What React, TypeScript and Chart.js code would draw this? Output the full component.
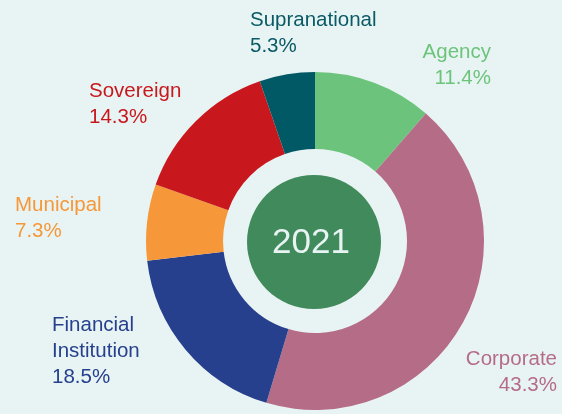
import React, { useEffect, useRef } from "react";
import { Chart, registerables } from "chart.js";

Chart.register(...registerables);

const categories = ["Agency", "Corporate", "Financial Institution", "Municipal", "Sovereign", "Supranational"];
const labelLines = [["Agency"], ["Corporate"], ["Financial", "Institution"], ["Municipal"], ["Sovereign"], ["Supranational"]];
const shares = [11.4, 43.3, 18.5, 7.3, 14.3, 5.3];
const centerLabel = "2021";

const sliceColors = ["#6cc47c", "#b56c87", "#26408e", "#f6983a", "#c8181e", "#025966"];
const textColors = ["#6cc47c", "#b56c87", "#26408e", "#f6983a", "#c8181e", "#0a5a66"];
// label anchor: x, first baseline y, alignment
const labelPos: [number, number, CanvasTextAlign][] = [
  [491, 58, "right"],
  [557, 365, "right"],
  [52, 331, "left"],
  [15, 211, "left"],
  [89, 97, "left"],
  [250, 26, "left"],
];

const BG = "#e8f4f3";
const FONT = "'Liberation Sans', Arial, Helvetica, sans-serif";

export default function App() {
  const ref = useRef<HTMLCanvasElement | null>(null);
  useEffect(() => {
    document.body.style.margin = "0";
    const canvas = ref.current!;
    const labelPlugin = {
      id: "labels",
      afterDraw(chart: any) {
        const ctx = chart.ctx as CanvasRenderingContext2D;
        const arc = chart.getDatasetMeta(0).data[0] as any;
        const cx = arc.x, cy = arc.y;
        const r = arc.innerRadius - 25;
        ctx.save();
        ctx.beginPath();
        ctx.arc(cx - 1, cy + 1, r, 0, Math.PI * 2);
        ctx.fillStyle = "#418a5c";
        ctx.fill();
        ctx.fillStyle = BG;
        ctx.font = `35px ${FONT}`;
        ctx.textAlign = "center";
        ctx.textBaseline = "alphabetic";
        ctx.fillText(centerLabel, cx - 4, cy + 12);
        ctx.font = `20.5px ${FONT}`;
        categories.forEach((_, i) => {
          const [x, y, align] = labelPos[i];
          ctx.fillStyle = textColors[i];
          ctx.textAlign = align;
          const lines = [...labelLines[i], shares[i].toFixed(1) + "%"];
          lines.forEach((ln, j) => ctx.fillText(ln, x, y + j * 26));
        });
        ctx.restore();
      },
    };
    const chart = new Chart(canvas, {
      type: "doughnut",
      data: {
        labels: categories,
        datasets: [
          {
            data: shares,
            backgroundColor: sliceColors,
            borderWidth: 0,
            hoverOffset: 0,
            offset: 0,
          },
        ],
      },
      options: {
        responsive: false,
        animation: false,
        cutout: 92,
        layout: { padding: { left: 146, right: 78, top: 72, bottom: 4 } },
        plugins: { legend: { display: false }, tooltip: { enabled: false } },
      },
      plugins: [labelPlugin],
    });
    return () => chart.destroy();
  }, []);
  return (
    <div style={{ width: 562, height: 414, background: BG }}>
      <canvas ref={ref} width={562} height={414} style={{ display: "block" }} />
    </div>
  );
}
